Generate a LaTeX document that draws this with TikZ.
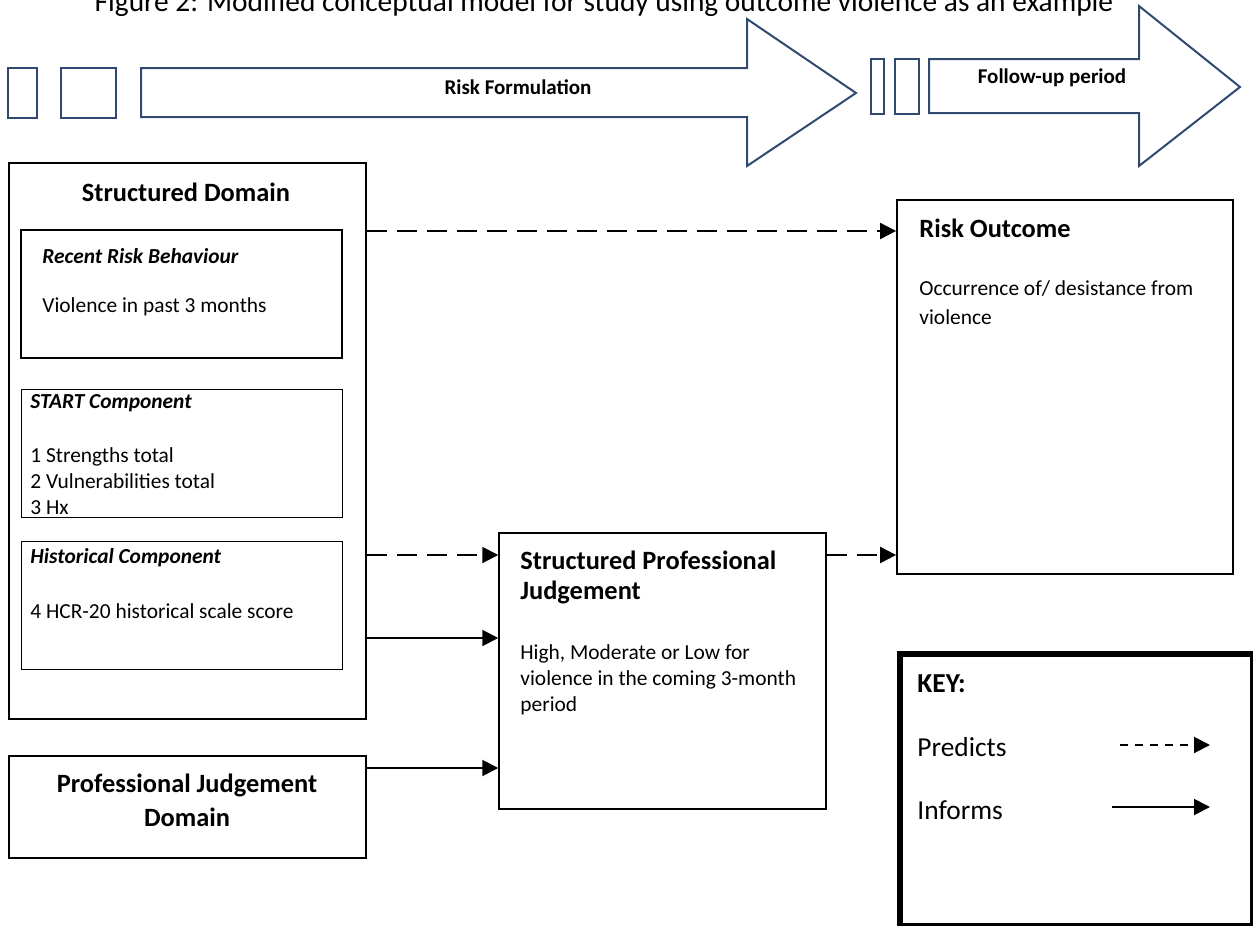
\documentclass[tikz,border=0pt]{standalone}
\usepackage{fontspec}
\setmainfont{Carlito}
\usepackage{tikz}
\usetikzlibrary{calc}
\usetikzlibrary{arrows.meta}
\definecolor{bleuFleche}{RGB}{47,74,110}
\newcommand{\Boite}[6]{\node[draw,inner sep=0pt,minimum width={(#4-#2)*0.5pt},minimum height={(#5-#3)*0.5pt},#6] (#1) at ({(#2+#4)/2},{(#3+#5)/2}) {}}
\newcommand{\Texte}[5]{\node[anchor=west,inner sep=0pt,align=left,#4] (#1) at (#2,#3) {#5}}

\begin{document}
\begin{tikzpicture}[x=0.5pt,y=-0.5pt,
	corps/.style={font=\fontsize{10.7}{13}\selectfont},
	grasIt/.style={font=\fontsize{10.7}{13}\selectfont\bfseries\itshape},
	gras/.style={font=\fontsize{13.2}{15}\selectfont\bfseries},
	cle/.style={font=\fontsize{13.7}{16}\selectfont},
	bande/.style={draw=bleuFleche,line width=1pt,line join=miter},
	informe/.style={line width=1pt,-{Triangle[length=8pt,width=8pt]}},
	predit/.style={informe,dash pattern=on 10pt off 5pt}]
	\useasboundingbox (0,0) rectangle (1253,926);
	\clip (0,0) rectangle (1253,926);
	
	%Titre
	\node[anchor=base,inner sep=0pt,font=\fontsize{14.7}{17}\selectfont] (titre) at (604,11) {Figure 2: Modified conceptual model for study using outcome violence as an example};
	
	%Fleches du haut
	\draw[bande] (8,68) rectangle (37,118);
	\draw[bande] (61,68) rectangle (116,118);
	\draw[bande] (141,68) -- (747,68) -- (747,19) -- (856,93) -- (747,166) -- (747,117) -- (141,117) -- cycle;
	\node[font=\fontsize{10.5}{12}\selectfont\bfseries] (formulation) at (518,87) {Risk Formulation};
	\draw[bande] (871,59) rectangle (884,114);
	\draw[bande] (895,59) rectangle (919,114);
	\draw[bande] (929,59) -- (1139,59) -- (1139,6) -- (1240,87) -- (1139,166) -- (1139,113) -- (929,113) -- cycle;
	\node[font=\fontsize{10.5}{12}\selectfont\bfseries] (suivi) at (1052,78) {Follow-up period};
	
	%Boites
	\Boite{sd}{9}{163}{366}{719}{line width=1pt};
	\Boite{rrb}{21}{230}{342}{358}{line width=1.3pt};
	\Boite{start}{21}{389}{342}{517}{line width=0.5pt};
	\Boite{hist}{21}{541}{342}{669}{line width=0.5pt};
	\Boite{pjd}{9}{756}{366}{858}{line width=1pt};
	\Boite{spj}{499}{533}{826}{809}{line width=0.75pt};
	\Boite{ro}{897}{200}{1233}{574}{line width=0.9pt};
	\Boite{key}{900}{654}{1253}{926}{line width=2.8pt};
	
	%Textes
	\node[gras] (sdTitre) at (186,192) {Structured Domain};
	\Texte{rrbTitre}{42}{256}{grasIt}{Recent Risk Behaviour};
	\Texte{rrbTexte}{42}{307}{corps}{Violence in past 3 months};
	\Texte{startTitre}{30}{403}{grasIt}{START Component};
	\Texte{startTexte}{30}{481}{corps}{1 Strengths total\\2 Vulnerabilities total\\3 Hx};
	\Texte{histTitre}{30}{558}{grasIt}{Historical Component};
	\Texte{histTexte}{30}{611}{corps}{4 HCR-20 historical scale score};
	\node[align=center,inner sep=0pt,font=\fontsize{13.2}{17}\selectfont\bfseries] (pjdTitre) at (187,800) {Professional Judgement\\Domain};
	\Texte{spjTitre}{520}{577}{gras}{Structured Professional\\Judgement};
	\Texte{spjTexte}{520}{680}{corps}{High, Moderate or Low for\\violence in the coming 3-month\\period};
	\Texte{roTitre}{919}{228}{gras}{Risk Outcome};
	\Texte{roTexte}{919}{303}{font=\fontsize{10.7}{14.5}\selectfont}{Occurrence of/ desistance from\\violence};
	\Texte{keyTitre}{917}{684}{font=\fontsize{13.7}{16}\selectfont\bfseries}{KEY:};
	\Texte{keyPredit}{917}{747}{cle}{Predicts};
	\Texte{keyInforme}{917}{810}{cle}{Informs};
	
	%Fleches
	\coordinate (h1) at (0,231);
	\coordinate (h2) at (0,555);
	\coordinate (h3) at (0,638);
	\coordinate (h4) at (0,768);
	\draw[predit] (sd.east |- h1) -- (ro.west |- h1);
	\draw[predit] (sd.east |- h2) -- (spj.west |- h2);
	\draw[informe] (sd.east |- h3) -- (spj.west |- h3);
	\draw[informe] (pjd.east |- h4) -- (spj.west |- h4);
	\draw[predit] (spj.east |- h2) -- (ro.west |- h2);
	
	%Legende
	\coordinate (k1) at (1120,745);
	\coordinate (k2) at (1210,745);
	\coordinate (k3) at (1112,807);
	\coordinate (k4) at (1210,807);
	\draw[informe,dash pattern=on 4pt off 3.5pt] (k1) -- (k2);
	\draw[informe] (k3) -- (k4);
	
\end{tikzpicture}
\end{document}
